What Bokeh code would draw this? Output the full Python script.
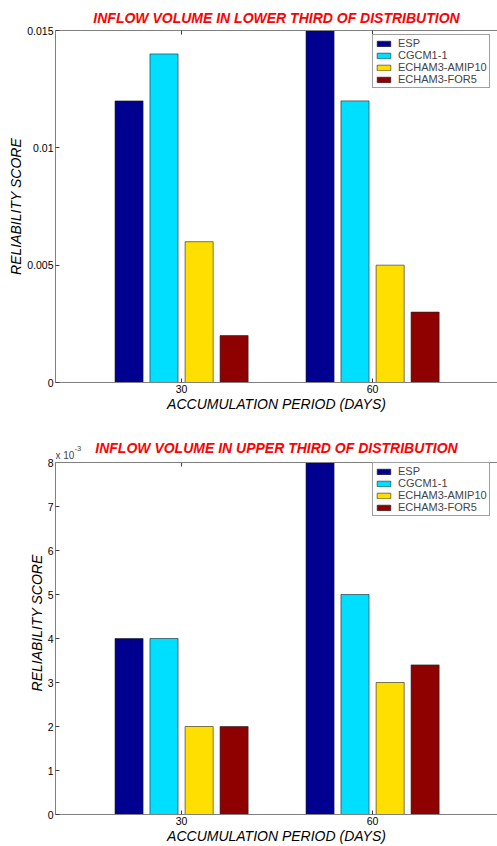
import math
from bokeh.plotting import figure
from bokeh.layouts import column
from bokeh.models import Range1d, FixedTicker, Label, LinearAxis, Span
from bokeh.embed import file_html
from bokeh.resources import INLINE

FONT = "Liberation Sans"

periods = ["30", "60"]
models = ["ESP", "CGCM1-1", "ECHAM3-AMIP10", "ECHAM3-FOR5"]
colors = ["#000090", "#00DFFF", "#FFDF00", "#8F0000"]

# Lower third of distribution (reliability score)
lower_esp = [0.012, 0.015]
lower_cgcm = [0.014, 0.012]
lower_amip = [0.006, 0.005]
lower_for5 = [0.002, 0.003]
lower_yticks = [0, 0.005, 0.01, 0.015]
lower_ytick_labels = ["0", "0.005", "0.01", "0.015"]

# Upper third of distribution (reliability score, x 10^-3)
upper_esp = [4.0, 8.0]
upper_cgcm = [4.0, 5.0]
upper_amip = [2.0, 3.0]
upper_for5 = [2.0, 3.4]
upper_yticks = [0, 1, 2, 3, 4, 5, 6, 7, 8]
upper_ytick_labels = ["0", "1", "2", "3", "4", "5", "6", "7", "8"]

offsets = [-0.275, -0.092, 0.092, 0.275]
BAR_W = 0.147
X_START, X_END = 0.340, 2.654
BOX_H = 352  # pixel height of the axes box


def style_axis(ax):
    ax.axis_line_color = "#808080"
    ax.major_tick_in = 4
    ax.major_tick_out = 0
    ax.minor_tick_in = 0
    ax.minor_tick_out = 0
    ax.major_tick_line_color = "#404040"
    ax.major_label_text_font = FONT
    ax.major_label_text_font_size = "10.5px"
    ax.major_label_text_color = "black"
    ax.axis_label_text_font = FONT
    ax.axis_label_text_font_size = "14px"
    ax.axis_label_text_font_style = "italic"
    ax.axis_label_text_color = "black"
    ax.major_label_standoff = 2
    ax.axis_label_standoff = 0


def make_panel(title, series, y_max, yticks, ylabels, height, top_b, bottom_b,
               standoff, legend_xy, extended=False):
    frame_h = height - top_b - bottom_b
    y_end = y_max * frame_h / BOX_H if extended else y_max
    p = figure(width=497, height=height,
               x_range=Range1d(X_START, X_END), y_range=Range1d(0, y_end),
               output_backend="svg", toolbar_location=None,
               min_border_left=55, min_border_right=0,
               min_border_top=top_b, min_border_bottom=bottom_b)
    TITLE_STYLE = dict(text_font=FONT, text_font_size="14px",
                       text_font_style="bold italic", text_color="#FF0000")
    if extended:
        p.title.text = ""
        p.title.visible = False
        p.add_layout(Label(x=(X_START + X_END) / 2, y=frame_h - standoff,
                           y_units="screen", text=title, text_align="center",
                           text_baseline="alphabetic", **TITLE_STYLE))
    else:
        p.title.text = title
        p.title.align = "center"
        p.title.standoff = standoff
        for k, v in TITLE_STYLE.items():
            setattr(p.title, k, v)

    for i, vals in enumerate(series):
        xs = [k + 1 + offsets[i] for k in range(len(periods))]
        p.vbar(x=xs, top=vals, width=BAR_W, fill_color=colors[i],
               line_color="#202020", line_width=0.6, legend_label=models[i])

    p.xgrid.visible = False
    p.ygrid.visible = False
    p.outline_line_color = None
    p.background_fill_color = "white"
    p.border_fill_color = "white"

    xt = [k + 1 for k in range(len(periods))]
    p.xaxis.ticker = FixedTicker(ticks=xt, minor_ticks=[])
    p.xaxis.major_label_overrides = {k + 1: lab for k, lab in enumerate(periods)}
    p.yaxis.ticker = FixedTicker(ticks=yticks, minor_ticks=[])
    p.yaxis.major_label_overrides = {t: lab for t, lab in zip(yticks, ylabels)}
    style_axis(p.xaxis[0])
    style_axis(p.yaxis[0])
    p.xaxis.axis_label = "ACCUMULATION PERIOD (DAYS)"
    p.yaxis.axis_label = "RELIABILITY SCORE"

    if extended:
        p.yaxis.bounds = (0, y_max)
        p.add_layout(Span(location=y_max, dimension="width",
                          line_color="#808080", line_width=1))
        p.ray(x=xt, y=[y_max] * len(xt), length=4, length_units="screen",
              angle=-math.pi / 2, line_color="#404040", line_width=1)
    else:
        top = LinearAxis(ticker=FixedTicker(ticks=xt, minor_ticks=[]))
        style_axis(top)
        top.major_label_overrides = {t: "" for t in xt}
        top.major_label_standoff = 0
        p.add_layout(top, "above")

    lg = p.legend[0]
    lg.location = legend_xy  # bottom-left corner of the legend, frame pixels
    lg.margin = 0
    lg.padding = 2
    lg.spacing = 0
    lg.label_height = 12
    lg.glyph_height = 7
    lg.glyph_width = 17
    lg.label_standoff = 6
    lg.label_text_font = FONT
    lg.label_text_font_size = "11px"
    lg.label_text_baseline = "middle"
    lg.border_line_color = "#404040"
    lg.border_line_width = 1
    lg.background_fill_alpha = 1.0
    return p


p1 = make_panel("INFLOW VOLUME IN LOWER THIRD OF DISTRIBUTION",
                [lower_esp, lower_cgcm, lower_amip, lower_for5],
                0.015, lower_yticks, lower_ytick_labels, 431, 30, 49, 9, (317, 294))

H2, TOP2, BOT2 = 415, 0, 32
p2 = make_panel("INFLOW VOLUME IN UPPER THIRD OF DISTRIBUTION",
                [upper_esp, upper_cgcm, upper_amip, upper_for5],
                8, upper_yticks, upper_ytick_labels, H2, TOP2, BOT2, 16, (317, 298),
                extended=True)

# scale annotation above the y axis
p2.add_layout(Label(x=0, y=BOX_H + 7, x_units="screen", y_units="screen", text="x 10",
                    text_font=FONT, text_font_size="10px", text_baseline="alphabetic"))
p2.add_layout(Label(x=19, y=BOX_H + 14, x_units="screen", y_units="screen", text="-3",
                    text_font=FONT, text_font_size="7.5px", text_baseline="alphabetic"))

layout = column(p1, p2)
open("out.html", "w").write(file_html(layout, INLINE))
